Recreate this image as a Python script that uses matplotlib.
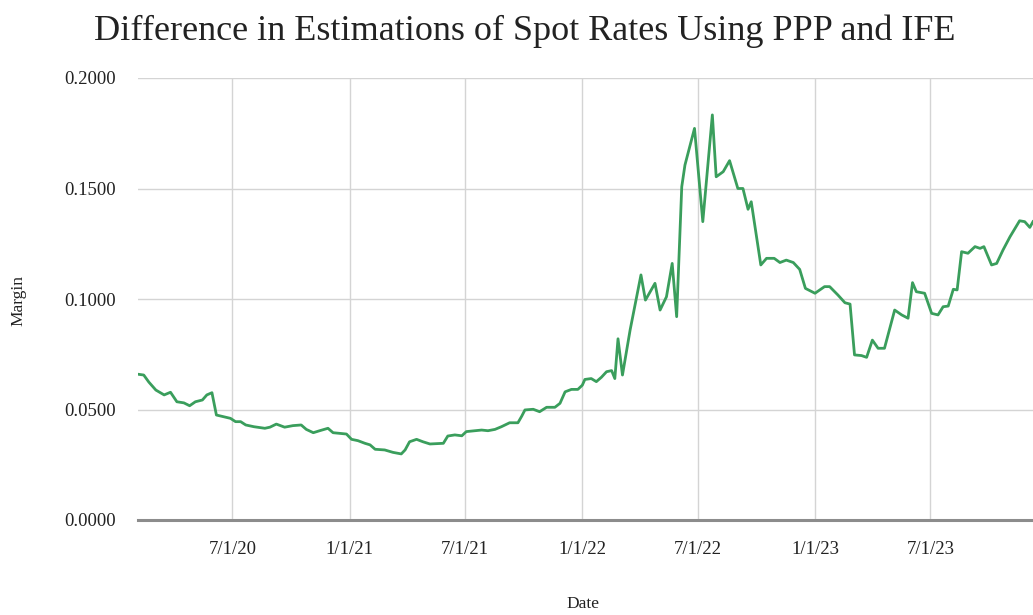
import matplotlib
matplotlib.use("Agg")
import matplotlib.pyplot as plt
import pandas as pd

dates = [
    "2020-02-03", "2020-02-13", "2020-02-21", "2020-03-03", "2020-03-16", "2020-03-26",
    "2020-04-05", "2020-04-16", "2020-04-25", "2020-05-04", "2020-05-15", "2020-05-22",
    "2020-05-30", "2020-06-06", "2020-06-18", "2020-06-28", "2020-07-06", "2020-07-14",
    "2020-07-22", "2020-08-04", "2020-08-21", "2020-08-29", "2020-09-08", "2020-09-21",
    "2020-10-04", "2020-10-17", "2020-10-25", "2020-11-05", "2020-11-15", "2020-11-28",
    "2020-12-06", "2020-12-17", "2020-12-27", "2021-01-04", "2021-01-14", "2021-01-25",
    "2021-02-02", "2021-02-10", "2021-02-25", "2021-03-10", "2021-03-23", "2021-03-29",
    "2021-04-05", "2021-04-16", "2021-04-26", "2021-05-07", "2021-05-28", "2021-06-04",
    "2021-06-15", "2021-06-26", "2021-07-03", "2021-07-16", "2021-07-27", "2021-08-06",
    "2021-08-17", "2021-08-27", "2021-09-09", "2021-09-22", "2021-09-28", "2021-10-03",
    "2021-10-16", "2021-10-26", "2021-11-06", "2021-11-19", "2021-11-27", "2021-12-05",
    "2021-12-15", "2021-12-25", "2022-01-01", "2022-01-05", "2022-01-15", "2022-01-23",
    "2022-01-31", "2022-02-08", "2022-02-16", "2022-02-21", "2022-02-26", "2022-03-05",
    "2022-03-17", "2022-04-03", "2022-04-10", "2022-04-25", "2022-05-03", "2022-05-13",
    "2022-05-22", "2022-05-29", "2022-06-06", "2022-06-11", "2022-06-26", "2022-07-09",
    "2022-07-24", "2022-07-30", "2022-08-10", "2022-08-20", "2022-09-02", "2022-09-10",
    "2022-09-18", "2022-09-23", "2022-10-08", "2022-10-17", "2022-10-29", "2022-11-07",
    "2022-11-17", "2022-11-28", "2022-12-08", "2022-12-17", "2023-01-01", "2023-01-16",
    "2023-01-24", "2023-02-06", "2023-02-17", "2023-02-25", "2023-03-04", "2023-03-15",
    "2023-03-23", "2023-04-01", "2023-04-10", "2023-04-20", "2023-05-06", "2023-05-17",
    "2023-05-27", "2023-06-03", "2023-06-09", "2023-06-22", "2023-07-03", "2023-07-13",
    "2023-07-21", "2023-07-29", "2023-08-06", "2023-08-12", "2023-08-19", "2023-08-29",
    "2023-09-09", "2023-09-17", "2023-09-23", "2023-10-05", "2023-10-13", "2023-10-23",
    "2023-11-03", "2023-11-18", "2023-11-26", "2023-12-04", "2023-12-09",
]

margin = [
    0.0660, 0.0656, 0.0624, 0.0588, 0.0566, 0.0578,
    0.0535, 0.0530, 0.0517, 0.0535, 0.0543, 0.0566,
    0.0576, 0.0475, 0.0467, 0.0460, 0.0445, 0.0445,
    0.0430, 0.0422, 0.0415, 0.0420, 0.0434, 0.0420,
    0.0427, 0.0430, 0.0410, 0.0395, 0.0404, 0.0415,
    0.0395, 0.0392, 0.0389, 0.0365, 0.0359, 0.0347,
    0.0340, 0.0320, 0.0317, 0.0306, 0.0299, 0.0317,
    0.0354, 0.0365, 0.0354, 0.0344, 0.0347, 0.0380,
    0.0385, 0.0381, 0.0400, 0.0404, 0.0407, 0.0404,
    0.0410, 0.0422, 0.0440, 0.0440, 0.0470, 0.0498,
    0.0501, 0.0490, 0.0510, 0.0510, 0.0528, 0.0580,
    0.0591, 0.0591, 0.0610, 0.0636, 0.0640, 0.0626,
    0.0646, 0.0671, 0.0676, 0.0640, 0.0820, 0.0656,
    0.0860, 0.1109, 0.0995, 0.1071, 0.0950, 0.1010,
    0.1161, 0.0920, 0.1508, 0.1606, 0.1772, 0.1350,
    0.1833, 0.1553, 0.1576, 0.1626, 0.1500, 0.1500,
    0.1406, 0.1440, 0.1154, 0.1184, 0.1184, 0.1165,
    0.1176, 0.1165, 0.1134, 0.1048, 0.1026, 0.1056,
    0.1056, 0.1018, 0.0983, 0.0977, 0.0747, 0.0744,
    0.0736, 0.0814, 0.0777, 0.0777, 0.0950, 0.0928,
    0.0913, 0.1074, 0.1033, 0.1026, 0.0935, 0.0928,
    0.0965, 0.0968, 0.1044, 0.1041, 0.1214, 0.1207,
    0.1237, 0.1229, 0.1237, 0.1154, 0.1161, 0.1222,
    0.1282, 0.1354, 0.1350, 0.1324, 0.1350,
]

x_ticks = ["2020-07-01", "2021-01-01", "2021-07-01", "2022-01-01",
           "2022-07-01", "2023-01-01", "2023-07-01"]
x_tick_labels = ["7/1/20", "1/1/21", "7/1/21", "1/1/22", "7/1/22", "1/1/23", "7/1/23"]
y_ticks = [0.0, 0.05, 0.10, 0.15, 0.20]

title = "Difference in Estimations of Spot Rates Using PPP and IFE"

plt.rcParams["font.family"] = ["Liberation Serif", "DejaVu Serif"]

fig = plt.figure(figsize=(10.33, 6.15), dpi=100)
ax = fig.add_axes([138 / 1033, 1 - 520 / 615, 1 - 138 / 1033, (520 - 78) / 615])

d = pd.to_datetime(dates)
ax.plot(d, margin, color="#3a9e5c", linewidth=2.0, zorder=3)

ax.set_xlim(pd.Timestamp("2020-02-04"), pd.Timestamp("2023-12-09"))
ax.set_ylim(0, 0.2)

ax.set_xticks(pd.to_datetime(x_ticks))
ax.set_xticklabels(x_tick_labels)
ax.set_yticks(y_ticks)
ax.set_yticklabels([f"{v:.4f}" for v in y_ticks])

ax.grid(True, color="#d4d4d4", linewidth=1.0)
ax.set_axisbelow(True)
for s in ["top", "right", "left"]:
    ax.spines[s].set_visible(False)
ax.spines["bottom"].set_color("#8c8c8c")
ax.spines["bottom"].set_linewidth(2.2)
ax.spines["bottom"].set_zorder(4)
ax.tick_params(axis="both", length=0, labelsize=13.5, colors="#222222")
ax.tick_params(axis="y", pad=16)
ax.tick_params(axis="x", pad=15)

fig.text(18 / 1033, 1 - 300 / 615, "Margin", rotation=90, ha="center", va="center",
         fontsize=12.5, color="#222222")
fig.text(583 / 1033, 1 - 604 / 615, "Date", ha="center", va="center",
         fontsize=12.5, color="#222222")
fig.text(525 / 1033, 1 - 31 / 615, title, ha="center", va="center",
         fontsize=26, color="#222222")

fig.savefig("out.png", dpi=100, facecolor="white")
